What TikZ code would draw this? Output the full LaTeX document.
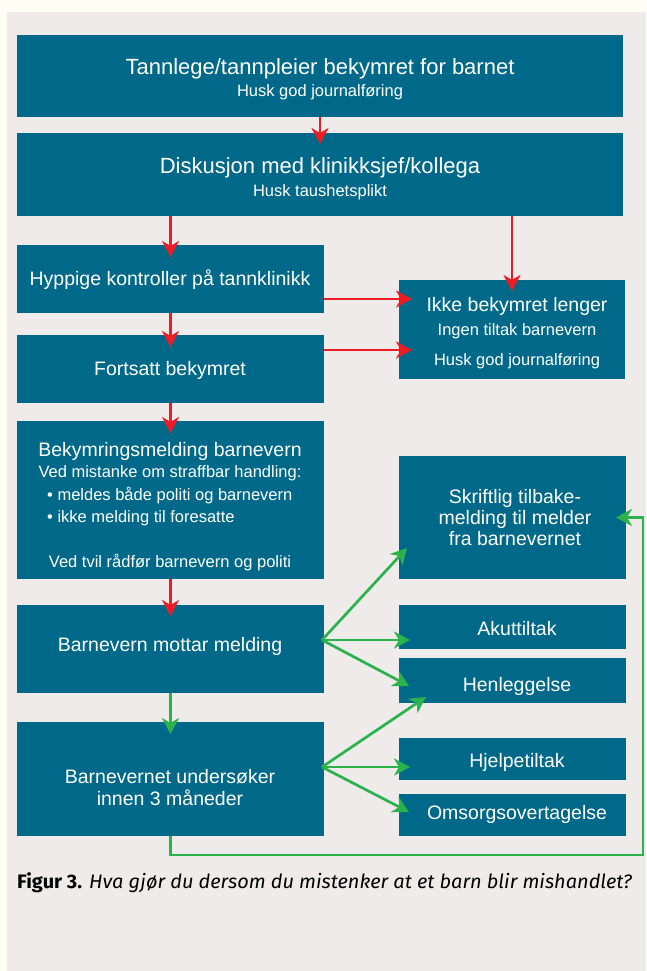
\documentclass[tikz,border=0pt]{standalone}
\usepackage{fontspec}
\setmainfont{Liberation Sans}
\newfontfamily\capfont{Fira Sans}
\usetikzlibrary{arrows.meta,calc}
\definecolor{boxteal}{RGB}{0,105,137}
\definecolor{arrred}{RGB}{237,28,36}
\definecolor{arrgrn}{RGB}{43,178,76}
\definecolor{panelbg}{RGB}{239,235,235}
\definecolor{creambg}{RGB}{255,254,245}
\begin{document}
\begin{tikzpicture}[x=1pt,y=-1pt,
  box/.style={fill=boxteal, draw=none, inner sep=0pt, outer sep=0pt, anchor=north west},
  txt/.style={text=white, inner sep=0pt, anchor=base},
  big/.style={font=\fontsize{22}{26}\selectfont},
  mid/.style={font=\fontsize{19.5}{23}\selectfont},
  sml/.style={font=\fontsize{16.5}{20}\selectfont},
  redarr/.style={draw=arrred, line width=2.8pt, -{Stealth[length=16pt,width=17pt,inset=5pt]}},
  grnarr/.style={draw=arrgrn, line width=2.7pt, -{Stealth[length=16pt,width=17pt,inset=5pt]}}
]
% backgrounds
\fill[creambg] (0,0) rectangle (646,971);
\fill[panelbg] (7,12) rectangle (646,971);
\useasboundingbox (0,0) rectangle (646,971);

% boxes
\node[box, minimum width=606pt, minimum height=82pt] (b1) at (17,35) {};
\node[box, minimum width=606pt, minimum height=83pt] (b2) at (17,133) {};
\node[box, minimum width=307pt, minimum height=68pt] (b3) at (17,245) {};
\node[box, minimum width=226pt, minimum height=99pt] (b4) at (399,280) {};
\node[box, minimum width=307pt, minimum height=68pt] (b5) at (17,335) {};
\node[box, minimum width=307pt, minimum height=158pt] (b6) at (17,421) {};
\node[box, minimum width=307pt, minimum height=88pt] (b7) at (17,605) {};
\node[box, minimum width=307pt, minimum height=114pt] (b8) at (17,722) {};
\node[box, minimum width=227pt, minimum height=123pt] (b9) at (399,456) {};
\node[box, minimum width=227pt, minimum height=44pt] (b10) at (399,605) {};
\node[box, minimum width=227pt, minimum height=45pt] (b11) at (399,658) {};
\node[box, minimum width=227pt, minimum height=42pt] (b12) at (399,738) {};
\node[box, minimum width=227pt, minimum height=42pt] (b13) at (399,794) {};

% texts
\node[txt, big] (t1a) at (320,75) {Tannlege/tannpleier bekymret for barnet};
\node[txt, sml] (t1b) at (320,97) {Husk god journalføring};
\node[txt, big] (t2a) at (320,173) {Diskusjon med klinikksjef/kollega};
\node[txt, sml] (t2b) at (320,196) {Husk taushetsplikt};
\node[txt, mid] (t3) at (170,285) {Hyppige kontroller på tannklinikk};
\node[txt, mid] (t4a) at (517,311) {Ikke bekymret lenger};
\node[txt, sml] (t4b) at (517,335) {Ingen tiltak barnevern};
\node[txt, sml] (t4c) at (517,365) {Husk god journalføring};
\node[txt, mid] (t5) at (170,375) {Fortsatt bekymret};
\node[txt, mid] (t6a) at (170,456) {Bekymringsmelding barnevern};
\node[txt, sml] (t6b) at (170,477) {Ved mistanke om straffbar handling:};
\node[txt, sml, anchor=base west] (t6c) at (47,500) {• meldes både politi og barnevern};
\node[txt, sml, anchor=base west] (t6d) at (47,522) {• ikke melding til foresatte};
\node[txt, sml] (t6e) at (170,567) {Ved tvil rådfør barnevern og politi};
\node[txt, mid] (t7) at (170,651) {Barnevern mottar melding};
\node[txt, mid] (t8a) at (170,783) {Barnevernet undersøker};
\node[txt, mid] (t8b) at (170,805) {innen 3 måneder};
\node[txt, mid] (t9a) at (515,503) {Skriftlig tilbake-};
\node[txt, mid] (t9b) at (515,524) {melding til melder};
\node[txt, mid] (t9c) at (515,545) {fra barnevernet};
\node[txt, mid] (t10) at (517,635) {Akuttiltak};
\node[txt, mid] (t11) at (517,691) {Henleggelse};
\node[txt, mid] (t12) at (517,767) {Hjelpetiltak};
\node[txt, mid] (t13) at (517,819) {Omsorgsovertagelse};

% caption
\node[inner sep=0pt, anchor=base west, text=black] (cap) at (17,888)
  {\resizebox{615pt}{\height}{\capfont\fontsize{19.5}{23}\selectfont\textbf{Figur 3.} \textit{Hva gjør du dersom du mistenker at et barn blir mishandlet?}}};

% red arrows
\draw[redarr] (b1.south) -- ($(b2.north)+(0,11)$);
\draw[redarr] (b2.south -| b3.north) -- ($(b3.north)+(0,12)$);
\draw[redarr] (b2.south -| b4.north) -- ($(b4.north)+(0,11)$);
\draw[redarr] ($(b3.east)+(0,20)$) -- ($(b3.east -| b4.west)+(13,20)$);
\draw[redarr] ($(b5.east)+(0,-19)$) -- ($(b5.east -| b4.west)+(13,-19)$);
\draw[redarr] (b3.south) -- ($(b5.north)+(0,12)$);
\draw[redarr] (b5.south) -- ($(b6.north)+(0,12)$);
\draw[redarr] (b6.south) -- ($(b7.north)+(0,11)$);

% green arrows
\draw[grnarr] (b7.south) -- ($(b8.north)+(0,12)$);
\coordinate (o7) at ($(b7.east)+(-2,-9)$);
\coordinate (o8) at ($(b8.east)+(-2,-12)$);
\draw[grnarr] (o7) -- ($(b9.south west)+(8,-31)$);
\draw[grnarr] (o7) -- ($(o7 -| b10.west)+(11,0)$);
\draw[grnarr] (o7) -- ($(b11.west)+(10,5.5)$);
\draw[grnarr] (o8) -- ($(b11.south west)+(27,-6)$);
\draw[grnarr] (o8) -- ($(o8 -| b12.west)+(11,0)$);
\draw[grnarr] (o8) -- ($(b13.west)+(10,-3)$);
\coordinate (fb) at (643,855);
\draw[grnarr] (b8.south) |- (fb) |- ($(b9.east)+(-10,0)$);
\end{tikzpicture}
\end{document}
